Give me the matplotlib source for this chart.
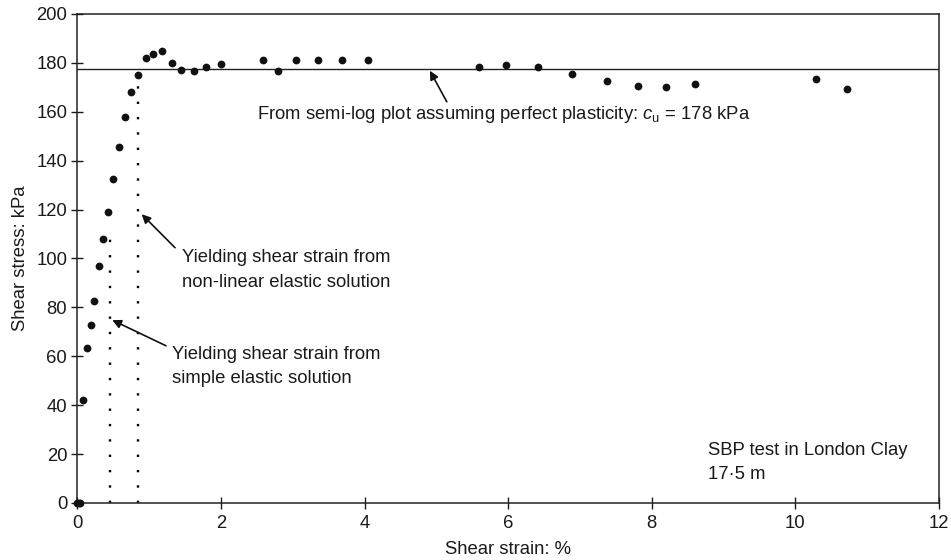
import matplotlib
matplotlib.use("Agg")
import matplotlib.pyplot as plt

plt.rcParams['font.family'] = ['Liberation Sans', 'DejaVu Sans']
plt.rcParams['mathtext.fontset'] = 'custom'
plt.rcParams['mathtext.rm'] = 'Liberation Sans'
plt.rcParams['mathtext.it'] = 'Liberation Sans:italic'

# SBP test data
strain = [0.0, 0.02, 0.04, 0.08, 0.14, 0.19, 0.23, 0.30, 0.36, 0.43, 0.50, 0.58,
          0.67, 0.75, 0.85, 0.95, 1.06, 1.18, 1.32, 1.45, 1.62, 1.79, 2.00,
          2.58, 2.80, 3.05, 3.35, 3.68, 4.05, 5.60, 5.97, 6.41, 6.89, 7.38,
          7.81, 8.20, 8.60, 10.29, 10.72]
stress = [0, 0, 0, 42, 63.5, 73, 82.5, 97, 108, 119, 132.5, 145.5,
          158, 168, 175, 182, 183.5, 185, 180, 177, 176.5, 178.5, 179.5,
          181, 176.5, 181, 181, 181, 181, 178.5, 179, 178.5, 175.3, 172.5,
          170.6, 170.3, 171.3, 173.5, 169.2]

cu = 177.5          # perfect plasticity line
yield_nonlin = 0.85 # yielding strain, non-linear elastic
yield_simple = 0.45 # yielding strain, simple elastic
top_nonlin = 175
top_simple = 113

txt = '#1a1a1a'
fs = 13.3

fig = plt.figure(figsize=(9.51, 5.60), dpi=100)
ax = fig.add_axes([0.0813, 0.1018, 0.9061, 0.8732])

ax.axhline(cu, color='#222222', lw=1.0, zorder=2)
ax.plot([yield_nonlin, yield_nonlin], [0, top_nonlin], color='k', lw=1.7,
        ls=(0, (1, 5.5)), dash_capstyle='butt', zorder=2)
ax.plot([yield_simple, yield_simple], [0, top_simple], color='k', lw=1.7,
        ls=(0, (1, 5.5)), dash_capstyle='butt', zorder=2)
ax.plot(strain, stress, 'o', color='#111111', ms=5.6, mec='none', clip_on=False, zorder=4)

ax.set_xlim(0, 12)
ax.set_ylim(0, 200)
ax.set_xticks(range(0, 13, 2))
ax.set_yticks(range(0, 201, 20))
for s in ax.spines.values():
    s.set_linewidth(1.1)
    s.set_color('#222222')
ax.tick_params(axis='x', direction='inout', length=8, width=1.0, pad=5,
               labelsize=fs, colors=txt)
ax.tick_params(axis='y', direction='inout', length=8.6, width=1.0, pad=3,
               labelsize=fs, colors=txt)
ax.set_xlabel('Shear strain: %', fontsize=fs, color=txt, labelpad=6)
ax.set_ylabel('Shear stress: kPa', fontsize=fs, color=txt, labelpad=5)

arrow = dict(arrowstyle='-|>', color='#111111', lw=1.2, mutation_scale=13,
             shrinkA=0, shrinkB=0)
ax.annotate('', xy=(4.91, 176.8), xytext=(5.145, 164.1), arrowprops=arrow)
ax.annotate('', xy=(0.897, 118.1), xytext=(1.361, 104.4), arrowprops=arrow)
ax.annotate('', xy=(0.487, 74.8), xytext=(1.235, 64.3), arrowprops=arrow)

ax.text(2.50, 158.7, r'From semi-log plot assuming perfect plasticity: $c_\mathrm{u}$ = 178 kPa',
        fontsize=fs, color=txt, ha='left', va='center')
ax.text(1.454, 95.3, 'Yielding shear strain from\nnon-linear elastic solution',
        fontsize=fs, color=txt, ha='left', va='center', linespacing=1.55)
ax.text(1.315, 55.8, 'Yielding shear strain from\nsimple elastic solution',
        fontsize=fs, color=txt, ha='left', va='center', linespacing=1.55)
ax.text(8.78, 16.4, 'SBP test in London Clay\n17\u00b75 m',
        fontsize=fs, color=txt, ha='left', va='center', linespacing=1.55)

fig.savefig('out.png', dpi=100)
